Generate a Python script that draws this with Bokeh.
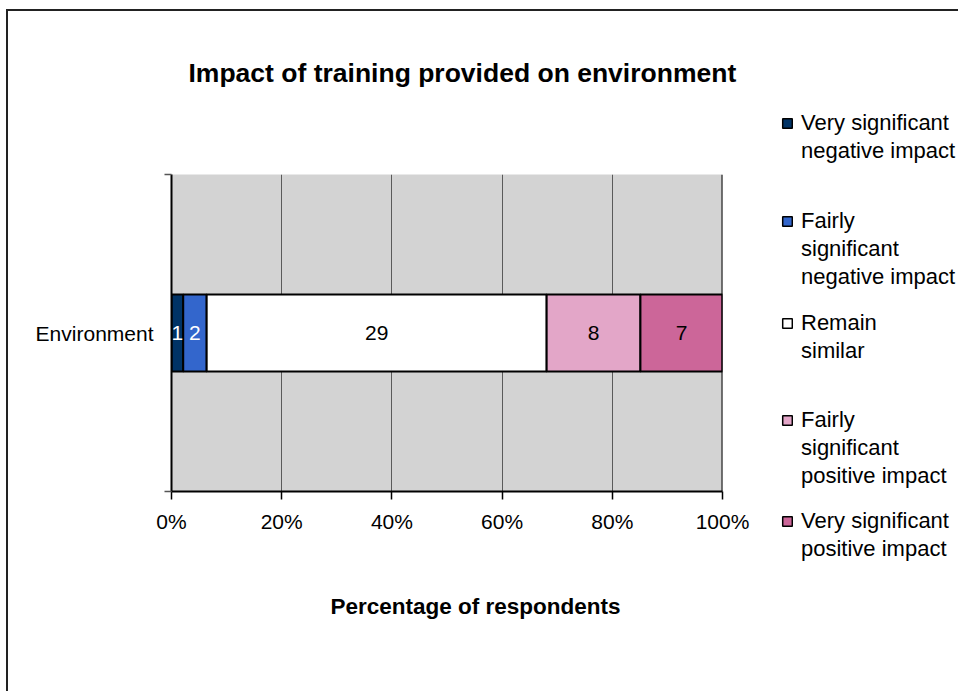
from bokeh.plotting import figure
from bokeh.layouts import row, column
from bokeh.models import (Range1d, FixedTicker, Legend, LegendItem, Span, Title, Label)
from bokeh.core.properties import value
from bokeh.embed import file_html
from bokeh.resources import INLINE

# ---------------- data ----------------
title_text = "Impact of training provided on environment"
x_axis_title = "Percentage of respondents"
categories = ["Environment"]
series_names = [
    "Very significant\nnegative impact",
    "Fairly\nsignificant\nnegative impact",
    "Remain\nsimilar",
    "Fairly\nsignificant\npositive impact",
    "Very significant\npositive impact",
]
series_values = [1, 2, 29, 8, 7]
series_colors = ["#003366", "#3366CC", "#FFFFFF", "#E3A6C8", "#CC6699"]
label_colors = ["white", "white", "black", "black", "black"]
tick_values = [0, 0.2, 0.4, 0.6, 0.8, 1.0]
tick_labels = ["0%", "20%", "40%", "60%", "80%", "100%"]

# ---------------- derived stacking ----------------
total = float(sum(series_values))
rights, lefts = [], []
acc = 0.0
for v in series_values:
    lefts.append(acc / total)
    acc += v
    rights.append(acc / total)
mids = [(a + b) / 2 for a, b in zip(lefts, rights)]

FONT = "Liberation Sans"
WM, WL = 760, 190
HT, HB = 89, 591

def blank(width, height, xr=(0, 1)):
    f = figure(width=width, height=height, x_range=Range1d(*xr), y_range=Range1d(0, 1),
               output_backend="svg", toolbar_location=None, tools="",
               min_border=0, outline_line_color=None)
    f.axis.visible = False
    f.grid.visible = False
    f.background_fill_color = "white"
    f.border_fill_color = "white"
    return f

# ---------------- title strip ----------------
pt = blank(WM + WL, HT)
pt.add_layout(Label(x=180, y=28, x_units="screen", y_units="screen",
                    text=title_text, text_align="left", text_baseline="alphabetic",
                    text_font=FONT, text_font_size="26.5px", text_font_style="bold",
                    text_color="black"))

# ---------------- main chart ----------------
p = figure(width=WM, height=HB, x_range=Range1d(0, 1), y_range=Range1d(0, 1),
           title=None, output_backend="svg", toolbar_location=None, tools="",
           min_border_left=163, min_border_right=46,
           min_border_top=74, min_border_bottom=200)
p.background_fill_color = "#D3D3D3"
p.border_fill_color = "white"
p.outline_line_color = None

xa = p.xaxis[0]
xa.ticker = FixedTicker(ticks=tick_values)
xa.major_label_overrides = {t: l for t, l in zip(tick_values, tick_labels)}
xa.axis_line_color = "black"
xa.axis_line_width = 2
xa.major_tick_line_color = "black"
xa.major_tick_line_width = 1.5
xa.major_tick_out = 8
xa.major_tick_in = 0
xa.minor_tick_out = 0
xa.minor_tick_in = 0
xa.major_label_standoff = 10
xa.major_label_text_font = FONT
xa.major_label_text_font_size = "21px"
xa.major_label_text_color = "black"

p.add_layout(Title(text=x_axis_title, align="left", offset=159, standoff=112,
                   text_font=FONT, text_font_size="22.5px", text_font_style="bold",
                   text_color="black"), "below")

ya = p.yaxis[0]
ya.ticker = FixedTicker(ticks=[0.5], minor_ticks=[0, 1])
ya.major_label_overrides = {0.5: categories[0]}
ya.axis_line_color = "black"
ya.axis_line_width = 2
ya.major_tick_out = 0
ya.major_tick_in = 0
ya.minor_tick_out = 7
ya.minor_tick_in = 0
ya.minor_tick_line_color = "#555555"
ya.minor_tick_line_width = 1.5
ya.major_label_standoff = 11
ya.major_label_text_font = FONT
ya.major_label_text_font_size = "21px"
ya.major_label_text_color = "black"

p.xgrid.grid_line_color = "#5a5a5a"
p.xgrid.grid_line_width = 1
p.ygrid.grid_line_color = None
p.ygrid.minor_grid_line_color = "#808080"
p.ygrid.minor_grid_line_width = 2

p.add_layout(Span(location=p.x_range.end, dimension="height",
                  line_color="black", line_width=2))

for i in range(len(series_values)):
    p.hbar(y=[0.5], left=[lefts[i]], right=[rights[i]], height=0.243,
           fill_color=series_colors[i], line_color="black", line_width=2)

p.text(x=mids, y=[0.5] * len(mids), text=[str(v) for v in series_values],
       text_color=label_colors, text_align="center", text_baseline="middle",
       text_font=value(FONT), text_font_size="21px")

# ---------------- legend strip ----------------
pl = blank(WL, HB)
leg_y = [526.5, 400.5, 326.5, 201.5, 128.5]   # bottom of each entry, px from strip bottom
for i in range(len(series_names)):
    # hidden key renderer: only its legend swatch is shown
    key = pl.hbar(y=[0.5], left=[lefts[i]], right=[rights[i]], height=0.2,
                  fill_color=series_colors[i], line_color="black", line_width=1.5,
                  visible=False)
    lines = series_names[i].split("\n")
    items = [LegendItem(label=value(lines[0]), renderers=[key])]
    items += [LegendItem(label=value(t), renderers=[]) for t in lines[1:]]
    pl.add_layout(Legend(items=items, location=(13, leg_y[i]),
                         padding=0, margin=0, spacing=0,
                         border_line_alpha=0, background_fill_alpha=0,
                         inactive_fill_alpha=0,
                         glyph_width=12, glyph_height=12, label_standoff=8,
                         label_height=28,
                         label_text_font=FONT, label_text_font_size="22px",
                         label_text_color="black"))

layout = column(pt, row(column(p), pl, spacing=0), spacing=0,
                styles={"margin-left": "6px", "margin-top": "9px",
                        "border-left": "2px solid #222222",
                        "border-top": "2px solid #222222"})

open("out.html", "w").write(file_html(layout, INLINE))
